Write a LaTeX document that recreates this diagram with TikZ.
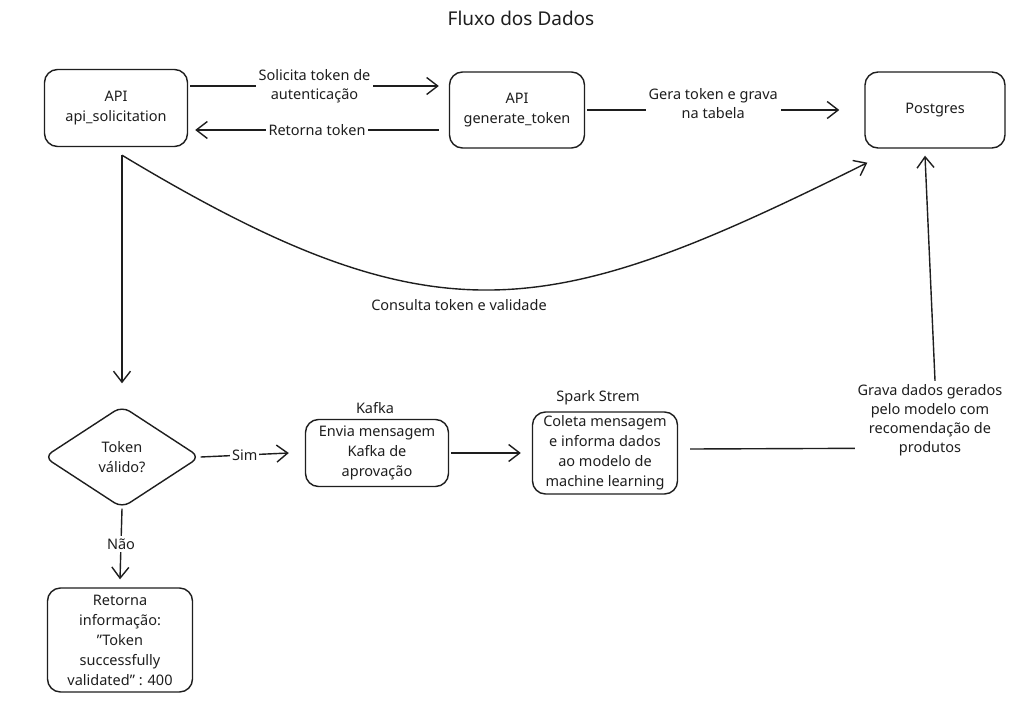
\documentclass[tikz,border=0pt]{standalone}
\usepackage{fontspec}
\setmainfont{Noto Sans}
\usetikzlibrary{arrows.meta,shapes.geometric,calc}
\definecolor{ink}{RGB}{30,30,30}
\begin{document}
\begin{tikzpicture}[x=1pt,y=-1pt,
  every node/.style={text=ink},
  box/.style={draw=ink, line width=1.4pt, rounded corners=13pt, align=center, inner sep=0pt, font=\fontsize{14.5}{20}\selectfont},
  decision/.style={draw=ink, line width=1.4pt, diamond, rounded corners=9pt, align=center, inner sep=0pt, font=\fontsize{14.5}{20}\selectfont, minimum width=156pt, minimum height=102pt},
  arr/.style={draw=ink, line width=1.4pt, -{Straight Barb[length=11pt,width=17pt,line width=1.4pt]}},
  lbl/.style={fill=white, align=center, inner sep=3pt, font=\fontsize{14.5}{19}\selectfont},
  txt/.style={align=center, inner sep=0pt, font=\fontsize{14.5}{19}\selectfont}]
\fill[white] (0,0) rectangle (1033,709);
\useasboundingbox (0,0) rectangle (1033,709);

\node[txt, font=\fontsize{19}{22}\selectfont] (title) at (521,18) {Fluxo dos Dados};

\node[box, minimum width=143pt, minimum height=77pt] (A) at (116,108) {API\\api\_solicitation};
\node[box, minimum width=135pt, minimum height=76pt] (B) at (517,110) {API\\generate\_token};
\node[box, minimum width=140pt, minimum height=76pt] (P) at (935,110) {Postgres};

\node[decision] (dia) at (122,457) {Token\\válido?};

\node[txt] (kafkalbl) at (375,408) {Kafka};
\node[box, minimum width=143pt, minimum height=67pt] (D) at (377,453) {Envia mensagem\\Kafka de\\aprovação};
\node[txt] (sparklbl) at (598,398) {Spark Strem};
\node[box, minimum width=145pt, minimum height=82pt] (E) at (605,453) {Coleta mensagem\\e informa dados\\ao modelo de\\machine learning};
\node[box, minimum width=145pt, minimum height=104pt] (F) at (120,640) {Retorna\\informação:\\"Token\\successfully\\validated" : 400};

% A -> B
\draw[arr] ($(A.east)+(2,-22)$) -- ($(B.west)+(-10,-24)$)
  node[lbl, midway] {Solicita token de\\autenticação};
% B -> A
\draw[arr] ($(B.west)+(-10,20)$) -- ($(A.east)+(7,22)$)
  node[lbl, midway] {Retorna token};
% B -> P
\draw[arr] ($(B.east)+(2,0)$) -- ($(P.west)+(-25,0)$)
  node[lbl, midway, yshift=6pt] {Gera token e grava\\na tabela};

% A -> decision
\coordinate (a1) at ($(A.south -| dia.north)+(0,8)$);
\draw[arr] (a1) -- ($(dia.north)+(0,-22)$);

% A -> Postgres curve
\coordinate (p1) at ($(P.south west)+(3,14)$);
\draw[arr] (a1) .. controls (439,346) and (549,321) .. (p1);
\node[txt] (consulta) at (459,305) {Consulta token e validade};

% decision -> D
\draw[arr] (dia.east) -- ($(D.west)+(-16,0)$)
  node[lbl, midway, inner sep=2pt] {Sim};
% D -> E
\draw[arr] ($(D.east)+(2,0)$) -- ($(E.west)+(-11,0)$);

% decision -> F
\draw[arr] (dia.south) -- ($(F.north)+(0,-8)$)
  node[lbl, midway] {Não};

% E -> Postgres
\coordinate (corner) at (938,448);
\draw[arr] ($(E.east)+(12,-4)$) -- (corner) -- ($(P.south)+(-10,7)$);
\node[lbl] (grava) at (930,420) {Grava dados gerados\\pelo modelo com\\recomendação de\\produtos};
\end{tikzpicture}
\end{document}
